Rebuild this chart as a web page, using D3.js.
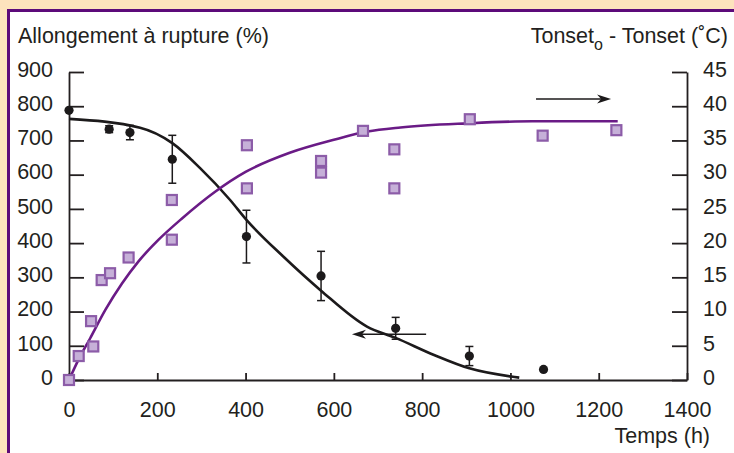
<!DOCTYPE html>
<html>
<head>
<meta charset="utf-8">
<script src="https://cdn.jsdelivr.net/npm/d3@7"></script>
<style>
  body { margin: 0; background: #fde3bd; }
  text { font-family: "Liberation Sans", Arial, Helvetica, sans-serif; fill: #231f20; }
</style>
</head>
<body>
<div id="chart"></div>
<script>
'use strict';

// time ticks (h) and axis ticks
const timeTicks = [0, 200, 400, 600, 800, 1000, 1200, 1400];
const elongTicks = [0, 100, 200, 300, 400, 500, 600, 700, 800, 900];
const tempTicks = [0, 5, 10, 15, 20, 25, 30, 35, 40, 45];

// elongation at break (%) with error bars
const elongTime = [0, 91, 138, 234, 402, 571, 740, 907, 1075];
const elongValue = [788, 733, 723, 645, 419, 304, 151, 70, 31];
const elongErr = [0, 10, 21, 70, 77, 72, 32, 28, 0];

// Tonset_o - Tonset (°C)
const tempTime = [0, 22, 55, 50, 74, 93, 135, 233, 233, 403, 403, 571, 571, 666, 737, 737, 908, 1073, 1240];
const tempValue = [0, 3.5, 4.9, 8.6, 14.6, 15.6, 17.9, 20.5, 26.3, 34.3, 28.0, 32.0, 30.3, 36.4, 33.7, 28.0, 38.1, 35.7, 36.5];

// fitted curves
const elongFitTime = [0, 161, 234, 297, 365, 402, 486, 571, 675, 740, 827, 907, 1002, 1020];
const elongFitValue = [763, 737, 692, 619, 526, 468, 360, 261, 156, 123, 73, 34, 10, 7];
const tempFitTime = [0, 21, 48, 82, 120, 157, 203, 256, 331, 400, 500, 600, 676, 751, 903, 1050, 1243];
const tempFitValue = [0, 2.9, 6.1, 10.2, 14.1, 17.3, 20.5, 23.6, 27.5, 30.4, 33.2, 35.1, 36.3, 36.9, 37.5, 37.8, 37.8];

const W = 734, H = 453;
const FONT = 21.5;

const svg = d3.select('#chart').append('svg')
    .attr('width', W)
    .attr('height', H);

// page frame
svg.append('rect')
    .attr('x', 0).attr('y', 0).attr('width', W).attr('height', H)
    .attr('fill', '#fde3bd');
svg.append('rect')
    .attr('x', 8.5).attr('y', 10.5).attr('width', W + 20).attr('height', H + 20)
    .attr('fill', '#ffffff')
    .attr('stroke', '#5c0a7a')
    .attr('stroke-width', 3);

const x = d3.scaleLinear().domain([0, 1400]).range([69, 687]);
const yL = d3.scaleLinear().domain([0, 900]).range([380, 72]);
const yR = d3.scaleLinear().domain([0, 45]).range([380, 72]);

function styleAxis(g) {
  g.selectAll('path, line').attr('stroke', '#231f20').attr('stroke-width', 1.8);
  g.selectAll('text')
    .attr('font-size', FONT)
    .attr('fill', '#231f20')
    .style('font-family', '"Liberation Sans", Arial, sans-serif');
}

svg.append('g')
    .attr('transform', 'translate(69,0)')
    .call(d3.axisLeft(yL).tickValues(elongTicks).tickFormat(d3.format('d'))
      .tickSizeInner(-15).tickSizeOuter(0).tickPadding(16))
    .call(styleAxis)
    .call(g => g.selectAll('text').attr('dy', '0.2em'));

svg.append('g')
    .attr('transform', 'translate(687,0)')
    .call(d3.axisRight(yR).tickValues(tempTicks).tickFormat(d3.format('d'))
      .tickSizeInner(-15).tickSizeOuter(0).tickPadding(16))
    .call(styleAxis)
    .call(g => g.selectAll('text').attr('dy', '0.2em'));

svg.append('g')
    .attr('transform', 'translate(0,380)')
    .call(d3.axisBottom(x).tickValues(timeTicks).tickFormat(d3.format('d'))
      .tickSizeInner(-7).tickSizeOuter(0).tickPadding(22))
    .call(styleAxis);

// axis titles
svg.append('text')
    .attr('x', 18).attr('y', 43)
    .attr('font-size', FONT)
    .text('Allongement à rupture (%)');

const tt = svg.append('text')
    .attr('x', 728).attr('y', 43)
    .attr('font-size', FONT)
    .attr('text-anchor', 'end');
tt.append('tspan').text('Tonset');
tt.append('tspan').attr('font-size', 16).attr('dy', 7).text('o');
tt.append('tspan').attr('dy', -7).text(' - Tonset (˚C)');

svg.append('text')
    .attr('x', 710).attr('y', 443)
    .attr('font-size', FONT)
    .attr('text-anchor', 'end')
    .text('Temps (h)');

// fitted curves
const elongLine = d3.line()
    .x(i => x(elongFitTime[i]))
    .y(i => yL(elongFitValue[i]))
    .curve(d3.curveMonotoneX);
svg.append('path')
    .attr('d', elongLine(d3.range(elongFitTime.length)))
    .attr('fill', 'none')
    .attr('stroke', '#1c1a1b')
    .attr('stroke-width', 2.6);

const tempLine = d3.line()
    .x(i => x(tempFitTime[i]))
    .y(i => yR(tempFitValue[i]))
    .curve(d3.curveMonotoneX);
svg.append('path')
    .attr('d', tempLine(d3.range(tempFitTime.length)))
    .attr('fill', 'none')
    .attr('stroke', '#6a1b86')
    .attr('stroke-width', 2.6);

// error bars
const bars = svg.append('g')
    .attr('stroke', '#1c1a1b')
    .attr('stroke-width', 1.5);
elongTime.forEach((t, i) => {
  const e = elongErr[i];
  if (!e) return;
  const cx = x(t), y0 = yL(elongValue[i] - e), y1 = yL(elongValue[i] + e);
  bars.append('line').attr('x1', cx).attr('x2', cx).attr('y1', y0).attr('y2', y1);
  bars.append('line').attr('x1', cx - 4).attr('x2', cx + 4).attr('y1', y0).attr('y2', y0);
  bars.append('line').attr('x1', cx - 4).attr('x2', cx + 4).attr('y1', y1).attr('y2', y1);
});

// elongation points
svg.append('g').selectAll('circle')
    .data(d3.range(elongTime.length))
  .enter().append('circle')
    .attr('cx', i => x(elongTime[i]))
    .attr('cy', i => yL(elongValue[i]))
    .attr('r', 4.6)
    .attr('fill', '#1c1a1b');

// temperature squares
svg.append('g').selectAll('rect')
    .data(d3.range(tempTime.length))
  .enter().append('rect')
    .attr('x', i => x(tempTime[i]) - 5)
    .attr('y', i => yR(tempValue[i]) - 5)
    .attr('width', 10)
    .attr('height', 10)
    .attr('fill', '#c6b0d8')
    .attr('stroke', '#8c5ca8')
    .attr('stroke-width', 2.2);

// arrows pointing to the axis each curve belongs to
function arrow(x1, x2, y) {
  const dir = x2 > x1 ? 1 : -1;
  svg.append('line')
      .attr('x1', x1).attr('x2', x2 - dir * 8).attr('y1', y).attr('y2', y)
      .attr('stroke', '#1c1a1b').attr('stroke-width', 1.5);
  svg.append('path')
      .attr('d', `M${x2},${y} L${x2 - dir * 14},${y - 4.5} L${x2 - dir * 10},${y} L${x2 - dir * 14},${y + 4.5} Z`)
      .attr('fill', '#1c1a1b');
}
arrow(x(1058), x(1228), yR(41.06));
arrow(x(809), x(641), yL(134));
</script>
</body>
</html>
